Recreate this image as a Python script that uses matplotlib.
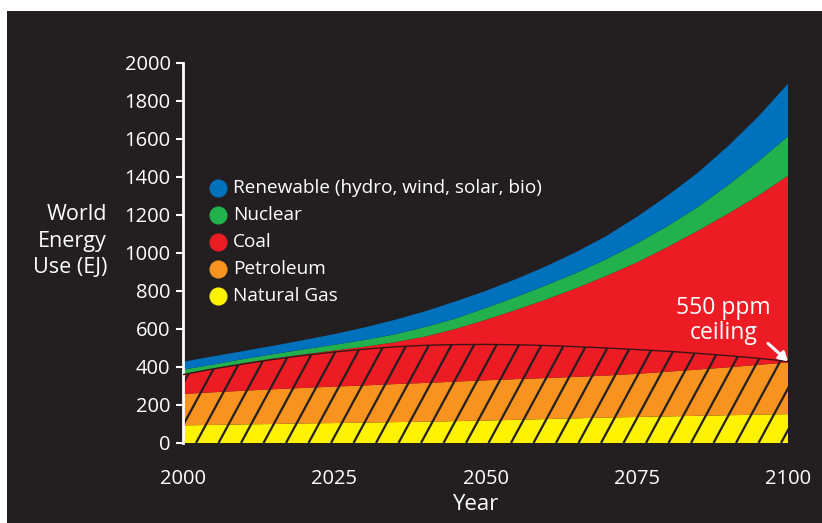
import matplotlib
matplotlib.use("Agg")
import matplotlib.pyplot as plt
import numpy as np
from matplotlib.patches import Polygon, Rectangle
from matplotlib.collections import LineCollection

# ---------------- data (EJ), read every 5 years ----------------
years = list(range(2000, 2101, 5))
natural_gas = [93, 95, 98, 100, 103, 105, 107, 110, 112, 115, 118,
               122, 126, 130, 134, 137, 140, 143, 146, 149, 152]
petroleum = [165, 172, 177, 183, 187, 192, 196, 200, 204, 208, 212,
             214, 216, 218, 221, 227, 235, 243, 252, 262, 272]
coal = [104, 125, 145, 162, 177, 190, 204, 220, 244, 277, 318,
        364, 413, 467, 525, 586, 655, 729, 807, 889, 983]
nuclear = [24, 21, 22, 23, 26, 30, 35, 42, 50, 55, 62,
           68, 75, 80, 88, 100, 110, 125, 150, 180, 207]
renewable = [42, 43, 42, 44, 49, 56, 66, 76, 83, 90, 90,
             94, 100, 110, 122, 140, 160, 180, 205, 235, 277]
ceiling_550 = [360, 390, 416, 440, 461, 479, 494, 506, 514, 518, 519,
               517, 513, 507, 500, 492, 483, 472, 460, 446, 430]

series_names = ["Renewable (hydro, wind, solar, bio)", "Nuclear", "Coal",
                "Petroleum", "Natural Gas"]
x_ticks = [2000, 2025, 2050, 2075, 2100]
y_ticks = list(range(0, 2001, 200))

# ---------------- style ----------------
BG = "#231f20"
colors = {"Natural Gas": "#fff200", "Petroleum": "#f7931e", "Coal": "#ed1c24",
          "Nuclear": "#22b14c", "Renewable (hydro, wind, solar, bio)": "#0071bc"}
FONT = ["Open Sans", "DejaVu Sans"]
plt.rcParams["font.family"] = FONT

W, H = 822, 523
fig = plt.figure(figsize=(W / 100, H / 100), dpi=100, facecolor="white")
fig.add_artist(Rectangle((7 / W, 0), 1, (H - 11) / H, transform=fig.transFigure,
                         facecolor=BG, edgecolor="none", zorder=-10))

ax = fig.add_axes([183 / W, (H - 443) / H, (788 - 183) / W, (443 - 63) / H])
ax.set_zorder(1)
ax.patch.set_alpha(0)

stack = np.vstack([natural_gas, petroleum, coal, nuclear, renewable])
order = ["Natural Gas", "Petroleum", "Coal", "Nuclear",
         "Renewable (hydro, wind, solar, bio)"]
ax.stackplot(years, stack, colors=[colors[n] for n in order], linewidth=0)

# hatched 550 ppm region
poly = Polygon(list(zip(years, ceiling_550)) + [(years[-1], 0), (years[0], 0)],
               closed=True, transform=ax.transData, facecolor="none",
               edgecolor="none")
ax.add_patch(poly)
ax.plot(years, ceiling_550, color="#3a1416", lw=1.0, zorder=3)

axw, axh = 788 - 183, 443 - 63
spacing = 22.5 / axw
dx_full = (1.0 / 1.85) * axh / axw
starts = np.arange(8 / axw - 2.0, 1.2, spacing)
segs = [[(s, 0), (s + dx_full, 1)] for s in starts]
lc = LineCollection(segs, colors=BG, linewidths=1.6, transform=ax.transAxes, zorder=2)
lc.set_clip_path(poly)
ax.add_collection(lc)

ax.set_xlim(2000, 2100)
ax.set_ylim(0, 2000)

for s in ["top", "right", "bottom"]:
    ax.spines[s].set_visible(False)
ax.spines["left"].set_color("white")
ax.spines["left"].set_linewidth(2)
ax.spines["left"].set_bounds(0, 2000)

ax.set_xticks(x_ticks)
ax.set_yticks(y_ticks)
ax.tick_params(axis="y", colors="white", length=5, width=1.5, pad=4, labelsize=14.5)
ax.tick_params(axis="x", colors="white", length=0, pad=19, labelsize=14.5)

# legend (manual)
for i, name in enumerate(series_names):
    ypx = 188 + 27 * i
    ya = (443 - ypx) / axh
    ax.scatter([(218 - 183) / axw], [ya], s=170, color=colors[name],
               transform=ax.transAxes, clip_on=False, zorder=5, linewidths=0)
    ax.text((233 - 183) / axw, ya, name, color="white", fontsize=13.7,
            va="center", ha="left", transform=ax.transAxes)

# annotation
ax.text(2089.3, 645, "550 ppm\nceiling", color="white", fontsize=16.5,
        ha="center", va="center", linespacing=1.08)
ax.annotate("", xy=(2100, ceiling_550[-1]), xytext=(2096.7, 524),
            arrowprops=dict(arrowstyle="-|>,head_length=0.5,head_width=0.3",
                            color="white", lw=2.2, shrinkA=0, shrinkB=0))

fig.text(107 / W, (H - 241) / H, "World\nEnergy\nUse (EJ)", color="white",
         fontsize=15.5, ha="right", va="center", multialignment="right",
         linespacing=1.35)
fig.text(475 / W, (H - 504) / H, "Year", color="white", fontsize=16,
         ha="center", va="center")

fig.savefig("out.png", dpi=100, facecolor="white")
